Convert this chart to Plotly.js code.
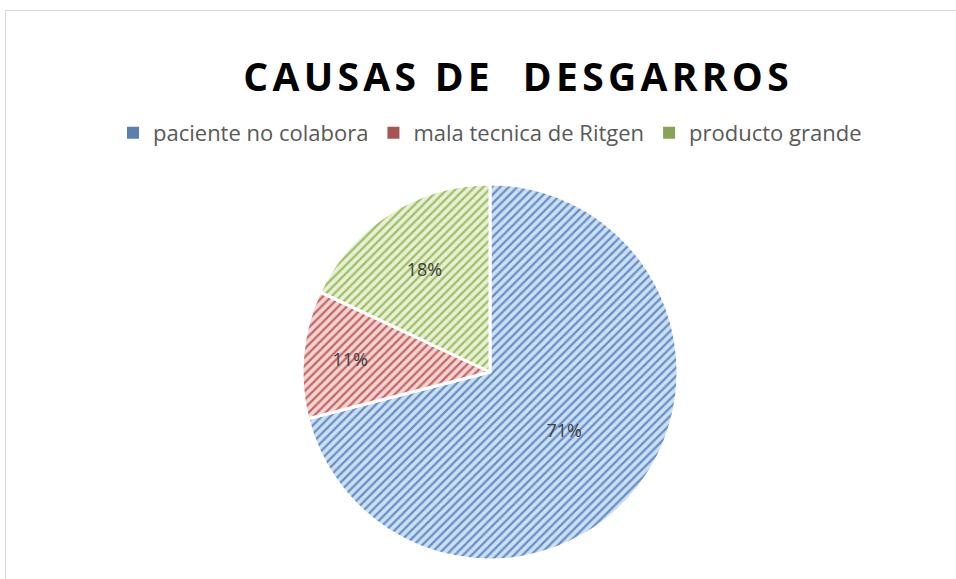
<!DOCTYPE html>
<html>
<head>
<meta charset="utf-8">
<script src="https://cdn.plot.ly/plotly-3.0.1.min.js"></script>
<style>
html,body{margin:0;padding:0;background:#fff;}
#frame{position:absolute;left:5px;top:10px;width:1000px;height:600px;border:1px solid #d9d9d9;box-sizing:border-box;}
#chart{position:absolute;left:0;top:0;width:956px;height:579px;}
#chart .gtitle{letter-spacing:4.3px;}
</style>
</head>
<body>
<div id="frame"></div>
<div id="chart"></div>
<script>
const categories = ["paciente no colabora", "mala tecnica de Ritgen", "producto grande"];
const values = [71, 11, 18];
const bgColors = ["#cddff3", "#f1d6d5", "#e9f0da"];
const fgColors = ["#6690c8", "#c86764", "#a0c062"];
const legendColors = ["#5b7fb0", "#a85452", "#86a356"];
const titleText = "CAUSAS DE\u00A0 DESGARROS";

const data = [{
  type: "pie",
  labels: categories,
  values: values,
  sort: false,
  direction: "clockwise",
  rotation: 0,
  textinfo: "percent",
  texttemplate: "%{percent:.0%}",
  textposition: "inside",
  insidetextorientation: "horizontal",
  textfont: {family: "Open Sans, sans-serif", size: 18, color: "#404040"},
  marker: {
    colors: bgColors,
    line: {color: "#ffffff", width: 3},
    pattern: {shape: "/", bgcolor: bgColors, fgcolor: fgColors, size: 6, solidity: 0.38, fillmode: "replace"}
  },
  hoverinfo: "label+percent"
}];

const layout = {
  width: 956,
  height: 579,
  paper_bgcolor: "rgba(0,0,0,0)",
  plot_bgcolor: "rgba(0,0,0,0)",
  margin: {l: 100, r: 76, t: 184, b: 19},
  title: {
    text: titleText,
    font: {family: "Open Sans, sans-serif", size: 39, color: "#000000", weight: "bold"},
    x: 0.542, xanchor: "center",
    y: 0.867, yanchor: "middle"
  },
  showlegend: true,
  legend: {
    orientation: "h",
    x: 0.5, xanchor: "center",
    y: 1.136, yanchor: "middle",
    yref: "paper",
    font: {family: "Open Sans, sans-serif", size: 22, color: "#595959"},
    itemwidth: 30,
    traceorder: "normal"
  }
};

Plotly.newPlot("chart", data, layout, {displayModeBar: false, staticPlot: true}).then(function (gd) {
  const paths = gd.querySelectorAll(".legend .traces .legendpoints path");
  paths.forEach(function (p, i) {
    p.style.fill = legendColors[i % legendColors.length];
    p.style.stroke = "none";
  });
});
</script>
</body>
</html>
